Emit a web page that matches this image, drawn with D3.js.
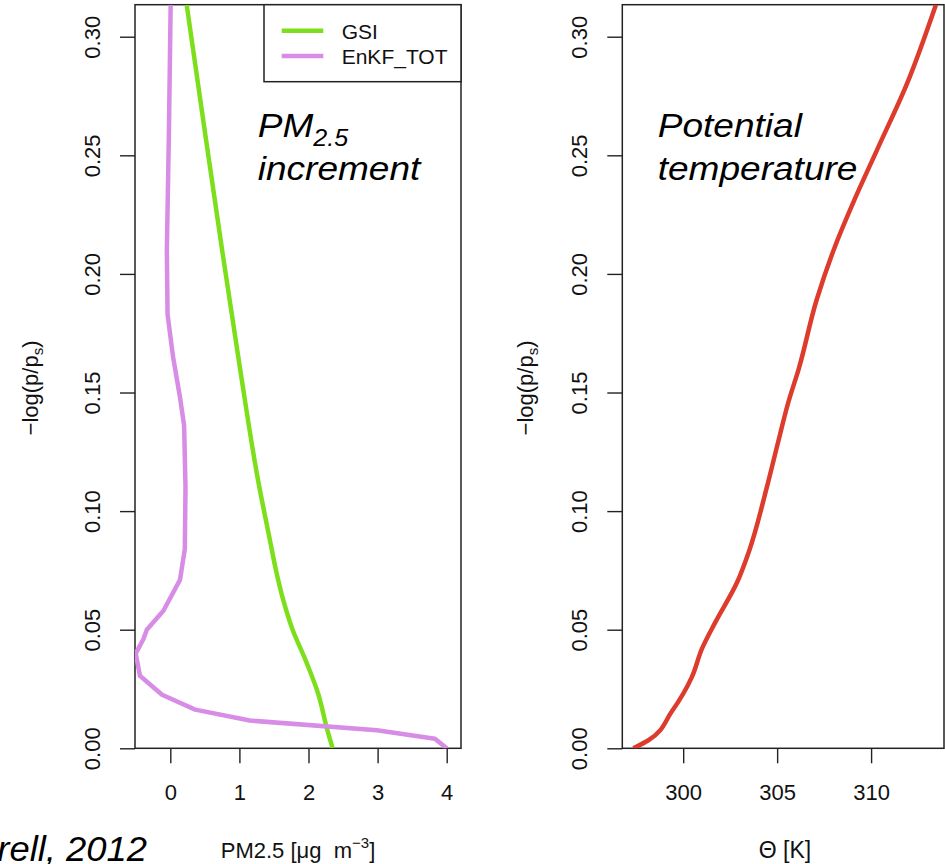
<!DOCTYPE html>
<html>
<head>
<meta charset="utf-8">
<script src="https://cdn.jsdelivr.net/npm/d3@7/dist/d3.min.js"></script>
<style>
  body { margin: 0; background: #fff; }
  svg { font-family: "Liberation Sans", Arial, sans-serif; }
</style>
</head>
<body>
<svg id="chart" width="945" height="864"></svg>
<script>
// vertical coordinate -log(p/ps) for each profile
var gsiLevels = [0.000, 0.008, 0.023, 0.037, 0.050, 0.063, 0.075, 0.088, 0.113, 0.160, 0.210, 0.260, 0.3135];
var gsiIncrement = [2.35, 2.27, 2.14, 1.96, 1.77, 1.63, 1.53, 1.44, 1.27, 1.01, 0.75, 0.50, 0.237];

var enkfLevels = [0.000, 0.004, 0.0076, 0.0117, 0.0163, 0.0226, 0.0306, 0.040, 0.046, 0.050, 0.058, 0.071, 0.084, 0.110, 0.136, 0.148, 0.165, 0.183, 0.210, 0.260, 0.3135];
var enkfIncrement = [4.00, 3.83, 2.99, 1.15, 0.36, -0.12, -0.44, -0.50, -0.39, -0.34, -0.10, 0.14, 0.21, 0.22, 0.20, 0.14, 0.04, -0.04, -0.05, -0.02, 0.005];

var thetaLevels = [0.000, 0.0034, 0.0156, 0.030, 0.042, 0.053, 0.070, 0.083, 0.110, 0.129, 0.146, 0.160, 0.189, 0.212, 0.231, 0.252, 0.280, 0.3135];
var thetaValues = [297.35, 298.15, 299.40, 300.46, 301.0, 301.7, 302.87, 303.5, 304.45, 305.05, 305.6, 306.15, 307.1, 308.1, 309.1, 310.3, 311.9, 313.45];

var yTicks = [0, 0.05, 0.10, 0.15, 0.20, 0.25, 0.30];
var pmTicks = [0, 1, 2, 3, 4];
var thetaTicks = [300, 305, 310];
var legendLabels = ["GSI", "EnKF_TOT"];
var seriesColors = ["#7ddf1c", "#d78ce6"];
var thetaColor = "#dd3b2c";

var svg = d3.select("#chart");
var plotTop = 4.7, plotBottom = 748.3;

var y = d3.scaleLinear().domain([0, 0.3135]).range([plotBottom, plotTop]);

function makePanel(id, left, right, xDomain, xTicks) {
    var x = d3.scaleLinear().domain(xDomain).range([left, right]);
    var g = svg.append("g");

    g.append("clipPath").attr("id", id)
        .append("rect").attr("x", left).attr("y", plotTop)
        .attr("width", right - left).attr("height", plotBottom - plotTop);

    // y axis, R style rotated labels
    var ya = g.append("g").attr("transform", "translate(" + left + ",0)")
        .call(d3.axisLeft(y).tickValues(yTicks).tickFormat(d3.format(".2f")).tickSize(15).tickSizeOuter(0));
    ya.select(".domain").remove();
    ya.selectAll("line").attr("stroke", "#222").attr("stroke-width", 1.4);
    ya.selectAll("text")
        .attr("x", null).attr("dy", null)
        .attr("transform", "translate(-35,0) rotate(-90)")
        .attr("text-anchor", "middle")
        .attr("fill", "#111")
        .style("font-size", "22px")
        .style("font-family", "'Liberation Sans', Arial, sans-serif");

    var xa = g.append("g").attr("transform", "translate(0," + plotBottom + ")")
        .call(d3.axisBottom(x).tickValues(xTicks).tickFormat(d3.format("d")).tickSize(15).tickSizeOuter(0));
    xa.select(".domain").remove();
    xa.selectAll("line").attr("stroke", "#222").attr("stroke-width", 1.4);
    xa.selectAll("text")
        .attr("y", 52).attr("dy", null)
        .attr("fill", "#111")
        .style("font-size", "22px")
        .style("font-family", "'Liberation Sans', Arial, sans-serif");

    // plot box
    g.append("rect")
        .attr("x", left).attr("y", plotTop)
        .attr("width", right - left).attr("height", plotBottom - plotTop)
        .attr("fill", "none").attr("stroke", "#222").attr("stroke-width", 1.5);

    return { g: g, x: x };
}

function drawProfile(panel, clipId, values, levels, color, curve) {
    var pts = values.map(function(v, i) { return [v, levels[i]]; });
    var line = d3.line()
        .x(function(d) { return panel.x(d[0]); })
        .y(function(d) { return y(d[1]); })
        .curve(curve);
    panel.g.append("path")
        .datum(pts)
        .attr("clip-path", "url(#" + clipId + ")")
        .attr("d", line)
        .attr("fill", "none")
        .attr("stroke", color)
        .attr("stroke-width", 4.5)
        .attr("stroke-linejoin", "round");
}

// big italic annotation, a little wider than the font as in the source
function bigText(parent, x, y0, size, sx) {
    return parent.append("text")
        .attr("transform", "translate(" + x + "," + y0 + ") scale(" + sx + ",1)")
        .style("font-size", size + "px").style("font-style", "italic").attr("fill", "#000");
}

function yTitle(xpos) {
    var t = svg.append("text")
        .attr("transform", "translate(" + xpos + ",388) rotate(-90)")
        .attr("text-anchor", "middle")
        .style("font-size", "22px")
        .attr("fill", "#111");
    t.append("tspan").text("\u2212log(p/p");
    t.append("tspan").attr("dy", 5).style("font-size", "15px").text("s");
    t.append("tspan").attr("dy", -5).text(")");
}

// left panel: PM2.5 increment
var left = makePanel("clipL", 135, 461, [-0.511, 4.207], pmTicks);
drawProfile(left, "clipL", gsiIncrement, gsiLevels, seriesColors[0], d3.curveMonotoneY);
drawProfile(left, "clipL", enkfIncrement, enkfLevels, seriesColors[1], d3.curveLinear);

var legend = left.g.append("g");
legend.append("rect")
    .attr("x", 264).attr("y", plotTop).attr("width", 461 - 264).attr("height", 81.7 - plotTop)
    .attr("fill", "#fff").attr("stroke", "#222").attr("stroke-width", 1.5);
legendLabels.forEach(function(lab, i) {
    var ly = 30.7 + i * 25.3;
    legend.append("line")
        .attr("x1", 281.7).attr("x2", 323.3).attr("y1", ly).attr("y2", ly)
        .attr("stroke", seriesColors[i]).attr("stroke-width", 4.5);
    legend.append("text")
        .attr("x", 341.7).attr("y", ly + 7.8)
        .style("font-size", "21px").attr("fill", "#111")
        .text(lab);
});

var ann = bigText(left.g, 257.7, 136.7, 34, 1.09);
ann.append("tspan").text("PM");
ann.append("tspan").attr("dy", 9).style("font-size", "23px").text("2.5");
bigText(left.g, 257.7, 180, 34, 1.09).text("increment");

var xtl = svg.append("text")
    .attr("x", 298).attr("y", 858)
    .attr("text-anchor", "middle")
    .style("font-size", "22px").attr("fill", "#111");
xtl.append("tspan").text("PM2.5 [\u03bcg\u00a0\u00a0m");
xtl.append("tspan").attr("dy", -10).style("font-size", "15px").text("\u22123");
xtl.append("tspan").attr("dy", 10).text("]");
yTitle(38);

// right panel: potential temperature
var right = makePanel("clipR", 622.3, 944, [296.76, 313.88], thetaTicks);
drawProfile(right, "clipR", thetaValues, thetaLevels, thetaColor, d3.curveMonotoneY);

bigText(right.g, 657.7, 136.7, 34, 1.09).text("Potential");
bigText(right.g, 657.7, 180, 34, 1.09).text("temperature");

svg.append("text")
    .attr("x", 785).attr("y", 858)
    .attr("text-anchor", "middle")
    .style("font-size", "23px").attr("fill", "#111")
    .text("\u0398 [K]");
yTitle(533);

// citation, cut off at left edge as in the source figure
bigText(svg, 147, 861, 35, 1.04)
    .attr("text-anchor", "end")
    .text("Pagowski and Grell, 2012");
</script>
</body>
</html>
